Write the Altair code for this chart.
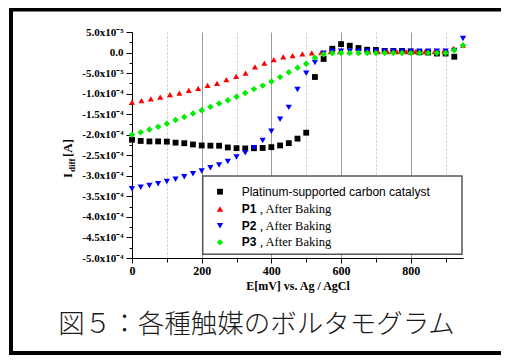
import json
import altair as alt
import pandas as pd

# ---------------- data ----------------
series_names = ["Platinum-supported carbon catalyst", "P1", "P2", "P3"]
series_colors = ["#000000", "#ff0000", "#0000ff", "#00ee00"]
series_shapes = ["square", "triangle-up", "triangle-down", "diamond"]
series_sizes = [34, 42, 42, 40]

pt_E = [0, 25, 50, 75, 100, 125, 150, 175, 200, 225, 250, 275, 300, 325, 350, 375, 400,
        425, 450, 475, 500, 525, 550, 575, 600, 625, 650, 675, 700, 725, 750, 775, 800,
        825, 850, 875, 900, 925]
pt_I = [-2.122e-4, -2.151e-4, -2.163e-4, -2.163e-4, -2.168e-4, -2.193e-4, -2.207e-4,
        -2.237e-4, -2.261e-4, -2.266e-4, -2.268e-4, -2.310e-4, -2.327e-4, -2.334e-4,
        -2.329e-4, -2.322e-4, -2.302e-4, -2.261e-4, -2.205e-4, -2.095e-4, -1.951e-4,
        -0.595e-4, -0.156e-4, 0.093e-4, 0.205e-4, 0.166e-4, 0.110e-4, 0.068e-4, 0.063e-4,
        0.039e-4, 0.039e-4, 0.039e-4, 0.024e-4, 0.007e-4, 0.0, -0.024e-4, -0.024e-4,
        -0.102e-4]

p1_E = [0, 27, 54, 81, 109, 136, 163, 190, 217, 244, 271, 299, 326, 353, 380, 407, 434,
        461, 489, 516, 543, 570, 597, 624, 651, 679, 706, 733, 760, 787, 814, 841, 869,
        896, 923, 950]
p1_I = [-1.205e-4, -1.17e-4, -1.13e-4, -1.083e-4, -1.024e-4, -0.985e-4, -0.92e-4,
        -0.873e-4, -0.80e-4, -0.75e-4, -0.66e-4, -0.58e-4, -0.50e-4, -0.35e-4, -0.26e-4,
        -0.17e-4, -0.107e-4, -0.073e-4, -0.034e-4, -0.01e-4, 0.0, 0.02e-4, 0.02e-4,
        0.02e-4, 0.02e-4, 0.02e-4, 0.02e-4, 0.02e-4, 0.02e-4, 0.02e-4, 0.02e-4, 0.02e-4,
        0.03e-4, 0.04e-4, 0.10e-4, 0.18e-4]

p2_E = [0, 25, 50, 75, 100, 125, 150, 175, 200, 225, 250, 275, 300, 325, 350, 375, 400,
        425, 450, 475, 500, 525, 550, 575, 600, 625, 650, 675, 700, 725, 750, 775, 800,
        825, 850, 875, 900, 925, 950]
p2_I = [-3.317e-4, -3.278e-4, -3.237e-4, -3.195e-4, -3.139e-4, -3.083e-4, -3.022e-4,
        -2.951e-4, -2.883e-4, -2.805e-4, -2.737e-4, -2.651e-4, -2.541e-4, -2.437e-4,
        -2.317e-4, -2.139e-4, -1.915e-4, -1.622e-4, -1.334e-4, -0.900e-4, -0.505e-4,
        -0.244e-4, -0.017e-4, 0.03e-4, 0.03e-4, 0.03e-4, 0.03e-4, 0.03e-4, 0.03e-4,
        0.03e-4, 0.03e-4, 0.03e-4, 0.03e-4, 0.03e-4, 0.03e-4, 0.03e-4, 0.03e-4, 0.05e-4,
        0.34e-4]

p3_E = [0, 25, 50, 75, 100, 125, 150, 175, 200, 225, 250, 275, 300, 325, 350, 375, 400,
        425, 450, 475, 500, 525, 550, 575, 600, 625, 650, 675, 700, 725, 750, 775, 800,
        825, 850, 875, 900, 925, 950]
p3_I = [-2.000e-4, -1.937e-4, -1.871e-4, -1.805e-4, -1.732e-4, -1.644e-4, -1.566e-4,
        -1.485e-4, -1.402e-4, -1.322e-4, -1.241e-4, -1.159e-4, -1.073e-4, -0.985e-4,
        -0.890e-4, -0.805e-4, -0.707e-4, -0.598e-4, -0.480e-4, -0.371e-4, -0.273e-4,
        -0.127e-4, -0.041e-4, -0.017e-4, -0.01e-4, -0.01e-4, -0.01e-4, -0.01e-4,
        -0.01e-4, -0.01e-4, -0.01e-4, -0.01e-4, -0.01e-4, -0.01e-4, -0.01e-4, -0.01e-4,
        -0.01e-4, 0.056e-4, 0.178e-4]

x_tick_values = [0, 100, 200, 300, 400, 500, 600, 700, 800, 900]
y_tick_values = [5e-5, 2.5e-5, 0.0, -2.5e-5, -5e-5, -7.5e-5, -1e-4, -1.25e-4, -1.5e-4,
                 -1.75e-4, -2e-4, -2.25e-4, -2.5e-4, -2.75e-4, -3e-4, -3.25e-4, -3.5e-4,
                 -3.75e-4, -4e-4, -4.25e-4, -4.5e-4, -4.75e-4, -5e-4]
y_tick_labels = ["5.0x10⁻⁵", "0.0", "-5.0x10⁻⁵", "-1.0x10⁻⁴", "-1.5x10⁻⁴", "-2.0x10⁻⁴",
                 "-2.5x10⁻⁴", "-3.0x10⁻⁴", "-3.5x10⁻⁴", "-4.0x10⁻⁴", "-4.5x10⁻⁴",
                 "-5.0x10⁻⁴"]

legend_bold = ["", "P1", "P2", "P3"]
legend_rest = ["Platinum-supported carbon catalyst", ", After Baking", ", After Baking",
               ", After Baking"]
x_title = "E[mV] vs. Ag / AgCl"
caption = "図５：各種触媒のボルタモグラム"

# ---------------- table ----------------
rows = []
for name, E, I in [(series_names[0], pt_E, pt_I), (series_names[1], p1_E, p1_I),
                   (series_names[2], p2_E, p2_I), (series_names[3], p3_E, p3_I)]:
    for e, i in zip(E, I):
        rows.append({"series": name, "E": e, "I": i})
df = pd.DataFrame(rows)

serif = "Liberation Serif"
sans = "Liberation Sans"

y_label_expr = (json.dumps(y_tick_labels, ensure_ascii=False)
                + "[(2 - round(datum.value / 0.000025)) / 2] || ''")

x_axis = alt.Axis(
    values=x_tick_values,
    labelExpr="datum.value % 200 === 0 ? datum.label : ''",
    title=x_title, titleFont=serif, titleFontWeight="bold", titleFontSize=12,
    titleColor="black", titlePadding=4,
    labelFont=serif, labelFontWeight="bold", labelFontSize=12, labelColor="black",
    labelPadding=2, labelFlush=False,
    domainColor="black", domainWidth=1, tickColor="black", tickWidth=1,
    tickSize={"condition": {"test": "datum.value % 200 === 0", "value": 5}, "value": 4},
    grid=True,
    gridColor={"condition": {"test": "datum.value % 200 === 0", "value": "#9a9a9a"},
               "value": "#c8c8c8"},
    gridDash={"condition": {"test": "datum.value % 200 === 0", "value": []},
              "value": [2, 2]},
    gridWidth=1,
)

y_axis = alt.Axis(
    values=y_tick_values,
    labelExpr=y_label_expr,
    title=None,
    labelFont=serif, labelFontWeight="bold", labelFontSize=11, labelColor="black",
    labelPadding=3, labelFlush=False, labelOverlap=False,
    domainColor="black", domainWidth=1, tickColor="black", tickWidth=1,
    tickSize={"condition": {"test": "abs(round(datum.value / 0.000025)) % 2 === 0",
                            "value": 6}, "value": 3},
    grid=False,
)

points = alt.Chart(df).mark_point(filled=True, opacity=1).encode(
    x=alt.X("E:Q", scale=alt.Scale(domain=[0, 950], nice=False, zero=False), axis=x_axis),
    y=alt.Y("I:Q", scale=alt.Scale(domain=[-5e-4, 5e-5], nice=False, zero=False),
            axis=y_axis),
    color=alt.Color("series:N", scale=alt.Scale(domain=series_names, range=series_colors),
                    legend=None),
    shape=alt.Shape("series:N", scale=alt.Scale(domain=series_names, range=series_shapes),
                    legend=None),
    size=alt.Size("series:N", scale=alt.Scale(domain=series_names, range=series_sizes),
                  legend=None),
)

one = alt.Data(values=[{"a": 1}])
layers = [points]

# legend box
layers.append(alt.Chart(one).mark_rect(fill="white", stroke="#555555", strokeWidth=1.5)
              .encode(x=alt.value(70.7), x2=alt.value(330), y=alt.value(144),
                      y2=alt.value(222.3)))
row_y = [159.7, 177, 193.7, 210.3]
for k in range(4):
    layers.append(alt.Chart(one).mark_point(filled=True, opacity=1,
                                            shape=series_shapes[k],
                                            size=series_sizes[k],
                                            color=series_colors[k])
                  .encode(x=alt.value(88), y=alt.value(row_y[k])))
    if legend_bold[k]:
        layers.append(alt.Chart(one).mark_text(align="left", baseline="middle", font=sans,
                                               fontWeight="bold", fontSize=12,
                                               color="black")
                      .encode(x=alt.value(109.7), y=alt.value(row_y[k]),
                              text=alt.value(legend_bold[k])))
        layers.append(alt.Chart(one).mark_text(align="left", baseline="middle", font=serif,
                                               fontSize=12.5, color="black")
                      .encode(x=alt.value(128), y=alt.value(row_y[k]),
                              text=alt.value(legend_rest[k])))
    else:
        layers.append(alt.Chart(one).mark_text(align="left", baseline="middle", font=sans,
                                               fontSize=12, color="black")
                      .encode(x=alt.value(109.7), y=alt.value(row_y[k]),
                              text=alt.value(legend_rest[k])))

# y axis title: I_diff[A]
layers.append(alt.Chart(one).mark_text(align="left", baseline="alphabetic", angle=270,
                                       font=serif, fontWeight="bold", fontSize=13,
                                       color="black")
              .encode(x=alt.value(-60), y=alt.value(146), text=alt.value("I")))
layers.append(alt.Chart(one).mark_text(align="left", baseline="alphabetic", angle=270,
                                       font=serif, fontWeight="bold", fontSize=9,
                                       color="black")
              .encode(x=alt.value(-57.5), y=alt.value(140), text=alt.value("diff")))
layers.append(alt.Chart(one).mark_text(align="left", baseline="alphabetic", angle=270,
                                       font=serif, fontWeight="bold", fontSize=13,
                                       color="black")
              .encode(x=alt.value(-60), y=alt.value(125), text=alt.value("[A]")))

# caption
layers.append(alt.Chart(one).mark_text(align="center", baseline="middle",
                                       font="Noto Sans CJK JP", fontSize=26.5,
                                       fontWeight=300, color="#1a1a1a")
              .encode(x=alt.value(124.5), y=alt.value(293), text=alt.value(caption)))

# outer frame
layers.append(alt.Chart(one).mark_rect(fillOpacity=0, stroke="black", strokeWidth=4)
              .encode(x=alt.value(-121), x2=alt.value(420), y=alt.value(-22.5),
                      y2=alt.value(321)))

chart = alt.layer(*layers).properties(
    width=331, height=226,
    autosize=alt.AutoSizeParams(type="none"),
    padding={"left": 124, "top": 24, "right": 38, "bottom": 97},
    background="white",
).configure_view(stroke=None)

chart.save("out.html", embed_options={"renderer": "svg", "actions": False})
